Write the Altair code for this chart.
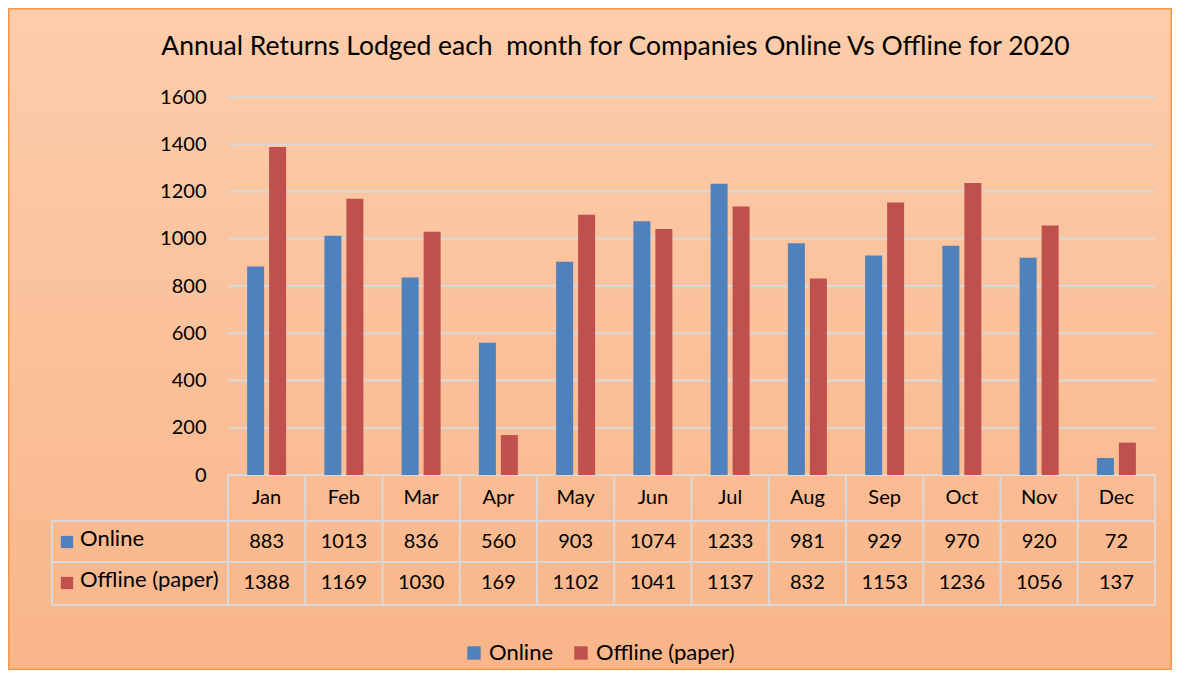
import altair as alt
import pandas as pd

months = ["Jan", "Feb", "Mar", "Apr", "May", "Jun", "Jul", "Aug", "Sep", "Oct", "Nov", "Dec"]
online = [883, 1013, 836, 560, 903, 1074, 1233, 981, 929, 970, 920, 72]
offline = [1388, 1169, 1030, 169, 1102, 1041, 1137, 832, 1153, 1236, 1056, 137]
series = ["Online", "Offline (paper)"]
colors = ["#4F81BD", "#C0504D"]
y_ticks = [0, 200, 400, 600, 800, 1000, 1200, 1400, 1600]
title_text = "Annual Returns Lodged each \u00a0month for Companies Online Vs Offline for 2020"

W, H = 927, 378
FONT = "Lato"
GRID = "#D9D9D9"

rows = []
for m, a, b in zip(months, online, offline):
    rows.append({"month": m, "series": series[0], "value": a})
    rows.append({"month": m, "series": series[1], "value": b})
df = pd.DataFrame(rows)
mdf = pd.DataFrame({"month": months})
tdf = pd.DataFrame({"tick": y_ticks})
sdf = pd.DataFrame({"series": series})
ttl = pd.DataFrame({"title": [title_text]})

xscale = alt.Scale(domain=months, paddingInner=0, paddingOuter=0)
yscale = alt.Scale(domain=[0, 1600])
yaxis = alt.Axis(values=y_ticks, format="d", grid=False, domain=False, ticks=False, labelFontSize=20,
                 labelFont=FONT, labelColor="black", labelPadding=22, title=None, zindex=1)

bg = alt.Chart(sdf.head(1)).mark_rect(
    fill=alt.LinearGradient(gradient="linear",
                            stops=[alt.GradientStop(offset=0, color="#FCCDAC"),
                                   alt.GradientStop(offset=1, color="#F9B589")],
                            x1=0, x2=0, y1=0, y2=1),
    stroke="#F79646", strokeWidth=3
).encode(x=alt.value(-220), x2=alt.value(W + 17), y=alt.value(-89), y2=alt.value(H + 195))

grid = alt.Chart(tdf).mark_rule(color=GRID, strokeWidth=2).encode(
    y=alt.Y("tick:Q", scale=yscale, axis=yaxis), x=alt.value(0), x2=alt.value(W))

bars = alt.Chart(df).mark_bar().encode(
    x=alt.X("month:N", sort=months, scale=xscale, axis=None),
    xOffset=alt.XOffset("series:N", sort=series,
                        scale=alt.Scale(domain=series, paddingInner=0.227, paddingOuter=0.87)),
    y=alt.Y("value:Q", scale=yscale, axis=yaxis),
    color=alt.Color("series:N", sort=series, scale=alt.Scale(domain=series, range=colors),
                    legend=alt.Legend(orient="none", legendX=235, legendY=545, direction="horizontal",
                                      title=None, symbolType="square", symbolSize=180,
                                      labelFontSize=22, labelFont=FONT, labelColor="black",
                                      symbolStrokeWidth=0, columnPadding=16, labelOffset=4,
                                      padding=0, zindex=1)),
)

vlines = alt.Chart(mdf).mark_rule(color=GRID, strokeWidth=2).encode(
    x=alt.X("month:N", sort=months, scale=xscale, axis=None, bandPosition=0),
    y=alt.value(H), y2=alt.value(H + 130))
vlast = alt.Chart(mdf.tail(1)).mark_rule(color=GRID, strokeWidth=2).encode(
    x=alt.X("month:N", sort=months, scale=xscale, axis=None, bandPosition=1),
    y=alt.value(H), y2=alt.value(H + 130))

hlines = [alt.Chart(sdf.head(1)).mark_rule(color=GRID, strokeWidth=2).encode(
    x=alt.value(-176), x2=alt.value(W), y=alt.value(yy)) for yy in (H + 46, H + 87, H + 130)]
leftline = alt.Chart(sdf.head(1)).mark_rule(color=GRID, strokeWidth=2).encode(
    x=alt.value(-176), y=alt.value(H + 46), y2=alt.value(H + 130))

txt = dict(font=FONT, fontSize=20, color="black", baseline="middle")
mtext = alt.Chart(mdf).mark_text(**txt).encode(
    x=alt.X("month:N", sort=months, scale=xscale, axis=None), y=alt.value(H + 23), text="month:N")

row_y = {series[0]: H + 67, series[1]: H + 108}
vtexts = []
rheads = []
rkeys = []
for s, c in zip(series, colors):
    vtexts.append(alt.Chart(df[df.series == s]).mark_text(**txt).encode(
        x=alt.X("month:N", sort=months, scale=xscale, axis=None), y=alt.value(row_y[s]),
        text="value:Q"))
    rheads.append(alt.Chart(sdf[sdf.series == s]).mark_text(align="left", font=FONT, fontSize=22,
                                                             color="black", baseline="middle").encode(
        x=alt.value(-148), y=alt.value(row_y[s] - 3), text="series:N"))
    rkeys.append(alt.Chart(sdf[sdf.series == s]).mark_point(shape="square", filled=True, size=150,
                                                              opacity=1, color=c).encode(
        x=alt.value(-161), y=alt.value(row_y[s])))

title = alt.Chart(ttl).mark_text(font=FONT, fontSize=26.5, color="black", baseline="alphabetic",
                                 align="center").encode(
    x=alt.value(W / 2 - 76), y=alt.value(-42), text="title:N")

chart = alt.layer(bg, grid, bars, vlines, vlast, *hlines, leftline, mtext, *vtexts, *rheads, *rkeys,
                  title).properties(
    width=W, height=H,
    autosize=alt.AutoSizeParams(type="none"),
    padding={"left": 220, "top": 89, "right": 17, "bottom": 195},
).configure_view(stroke=None).configure(background="white")

chart.save("out.html", embed_options={"renderer": "svg", "actions": False})
